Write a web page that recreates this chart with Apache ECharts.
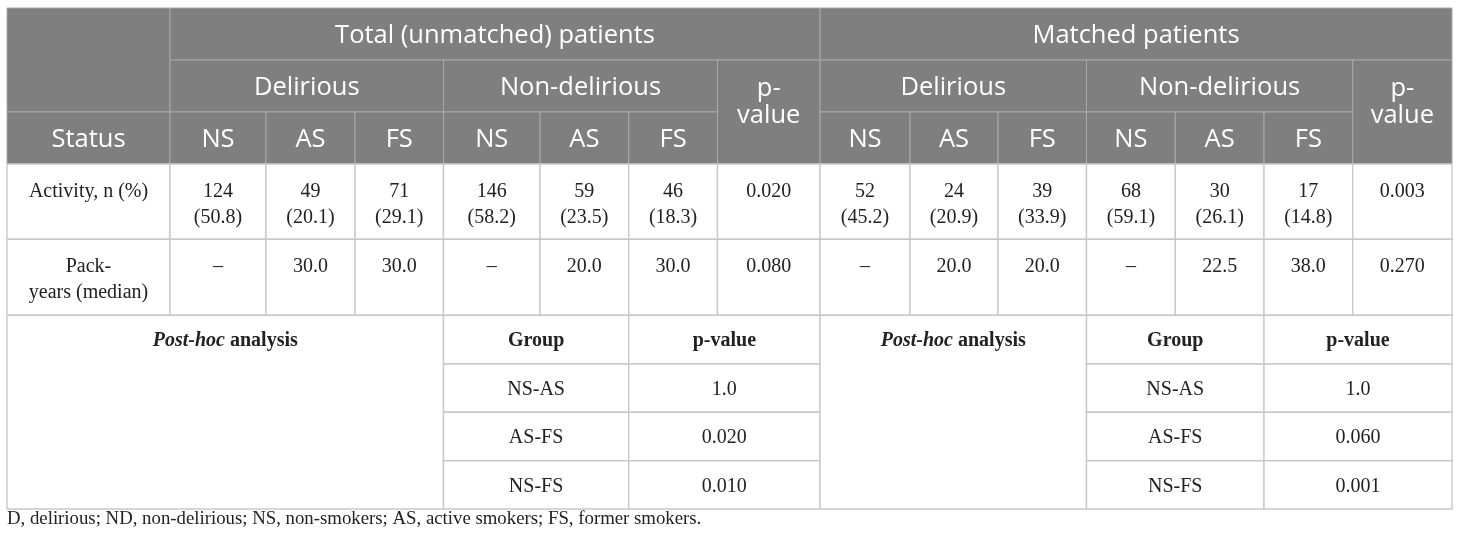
<!DOCTYPE html>
<html>
<head>
<meta charset="utf-8">
<script src="https://cdn.jsdelivr.net/npm/echarts@6/dist/echarts.min.js"></script>
<style>
html,body{margin:0;padding:0;background:#fff;}
#chart{width:1460px;height:544px;}
</style>
</head>
<body>
<div id="chart"></div>
<script>
// ---------- data ----------
const topHeaders = ['Total (unmatched) patients', 'Matched patients'];
const groupHeaders = ['Delirious', 'Non-delirious'];
const statusCols = ['NS', 'AS', 'FS'];
const pHeader = 'p-\nvalue';
const firstColHeader = 'Status';
const rowLabels = ['Activity, n (%)', 'Pack-\nyears (median)'];

const activityCountTotal = [124, 49, 71, 146, 59, 46];
const activityPctTotal = ['50.8', '20.1', '29.1', '58.2', '23.5', '18.3'];
const activityPTotal = '0.020';
const packYearsTotal = ['–', '30.0', '30.0', '–', '20.0', '30.0'];
const packPTotal = '0.080';

const activityCountMatched = [52, 24, 39, 68, 30, 17];
const activityPctMatched = ['45.2', '20.9', '33.9', '59.1', '26.1', '14.8'];
const activityPMatched = '0.003';
const packYearsMatched = ['–', '20.0', '20.0', '–', '22.5', '38.0'];
const packPMatched = '0.270';

const postHocTitle = ['Post-hoc', 'analysis'];
const postHocHeaders = ['Group', 'p-value'];
const postHocGroups = ['NS-AS', 'AS-FS', 'NS-FS'];
const postHocPTotal = ['1.0', '0.020', '0.010'];
const postHocPMatched = ['1.0', '0.060', '0.001'];

const footnote = 'D, delirious; ND, non-delirious; NS, non-smokers; AS, active smokers; FS, former smokers.';

// ---------- layout ----------
const colWidths = [163, 96, 89, 88.5, 96.5, 88.7, 88.8, 102.5, 90, 88, 88.5, 88.8, 88.7, 88.7, 99.3];
const rowHeights = [52, 52, 52, 75.3, 76, 48.7, 48.3, 48.4, 48.3];
const colEdges = [0]; colWidths.forEach(w => colEdges.push(colEdges[colEdges.length - 1] + w));
const rowEdges = [0]; rowHeights.forEach(h => rowEdges.push(rowEdges[rowEdges.length - 1] + h));
const totalW = colEdges[colEdges.length - 1];
const totalH = rowEdges[rowEdges.length - 1];

const HEAD_FONT = '"Open Sans"';
const BODY_FONT = '"Liberation Serif"';
const HEAD_SHIFT = 2;   // optical vertical offset for header text
const BODY_SHIFT = 1.5; // optical vertical offset for body text

// ---------- cells ----------
const cells = [];
function head(c0, c1, r0, r1, text, opts) {
  cells.push(Object.assign({c0, c1, r0, r1, text, kind: 'head', valign: 'middle'}, opts || {}));
}
function body(c0, c1, r0, r1, text, opts) {
  cells.push(Object.assign({c0, c1, r0, r1, text, kind: 'body', valign: 'top'}, opts || {}));
}

// header
head(0, 0, 0, 1, '');
head(0, 0, 2, 2, firstColHeader);
topHeaders.forEach((t, b) => {
  const base = 1 + b * 7;
  head(base, base + 6, 0, 0, t);
  groupHeaders.forEach((g, gi) => {
    head(base + gi * 3, base + gi * 3 + 2, 1, 1, g);
    statusCols.forEach((s, si) => head(base + gi * 3 + si, base + gi * 3 + si, 2, 2, s));
  });
  head(base + 6, base + 6, 1, 2, pHeader, {valign: 'top', pad: 13.5, lh: 27});
});

// body rows
body(0, 0, 3, 3, rowLabels[0]);
body(0, 0, 4, 4, rowLabels[1]);
const blocks = [
  [activityCountTotal, activityPctTotal, activityPTotal, packYearsTotal, packPTotal],
  [activityCountMatched, activityPctMatched, activityPMatched, packYearsMatched, packPMatched]
];
blocks.forEach((blk, b) => {
  const base = 1 + b * 7;
  blk[0].forEach((n, i) => body(base + i, base + i, 3, 3, n + '\n(' + blk[1][i] + ')'));
  body(base + 6, base + 6, 3, 3, blk[2]);
  blk[3].forEach((v, i) => body(base + i, base + i, 4, 4, v));
  body(base + 6, base + 6, 4, 4, blk[4]);
});

// post-hoc section
[postHocPTotal, postHocPMatched].forEach((pv, b) => {
  const c0 = b ? 8 : 0, c1 = b ? 10 : 3;
  body(c0, c1, 5, 8, '', {rich: true, valign: 'middleFirst'});
  const g0 = b ? 11 : 4, p0 = b ? 13 : 6;
  body(g0, g0 + 1, 5, 5, postHocHeaders[0], {bold: true, valign: 'middle'});
  body(p0, p0 + 1, 5, 5, postHocHeaders[1], {bold: true, valign: 'middle'});
  postHocGroups.forEach((g, i) => {
    body(g0, g0 + 1, 6 + i, 6 + i, g, {valign: 'middle'});
    body(p0, p0 + 1, 6 + i, 6 + i, pv[i], {valign: 'middle'});
  });
});

// ---------- chart ----------
const chart = echarts.init(document.getElementById('chart'), null, {renderer: 'canvas'});

function renderItem(params, api) {
  const cell = cells[params.dataIndex];
  const pA = api.coord([colEdges[cell.c0], rowEdges[cell.r0]]);
  const pB = api.coord([colEdges[cell.c1 + 1], rowEdges[cell.r1 + 1]]);
  const x = pA[0], y = pA[1], w = pB[0] - pA[0], h = pB[1] - pA[1];
  const isHead = cell.kind === 'head';
  const children = [{
    type: 'rect',
    shape: {x, y, width: w, height: h},
    style: {
      fill: isHead ? '#7f7f7f' : '#ffffff',
      stroke: isHead ? '#a9a9a9' : '#c9c9c9',
      lineWidth: isHead ? 1 : 1.4
    }
  }];
  const cx = x + w / 2;
  const shift = isHead ? HEAD_SHIFT : BODY_SHIFT;
  let ty, va;
  if (cell.valign === 'middle') { ty = y + h / 2; va = 'middle'; }
  else if (cell.valign === 'middleFirst') {
    const hp = api.coord([0, rowEdges[cell.r0 + 1]])[1] - y;
    ty = y + hp / 2; va = 'middle';
  } else { ty = y + (cell.pad || 13); va = 'top'; }
  ty += shift;
  if (cell.rich) {
    children.push({
      type: 'text',
      style: {
        text: '{bi|' + postHocTitle[0] + '} {b|' + postHocTitle[1] + '}',
        x: cx, y: ty, align: 'center', verticalAlign: va,
        fill: '#222',
        font: 'bold 20px ' + BODY_FONT,
        rich: {
          bi: {fontFamily: 'Liberation Serif', fontSize: 20, fontWeight: 'bold', fontStyle: 'italic', fill: '#222'},
          b: {fontFamily: 'Liberation Serif', fontSize: 20, fontWeight: 'bold', fill: '#222'}
        }
      }
    });
  } else if (cell.text !== '') {
    children.push({
      type: 'text',
      style: {
        text: String(cell.text),
        x: cx, y: ty, align: 'center', verticalAlign: va,
        fill: isHead ? '#ffffff' : '#222222',
        font: isHead ? ('25.5px ' + HEAD_FONT) : ((cell.bold ? 'bold ' : '') + '20px ' + BODY_FONT),
        lineHeight: isHead ? (cell.lh || 28) : 26
      }
    });
  }
  return {type: 'group', children};
}

chart.setOption({
  backgroundColor: '#ffffff',
  animation: false,
  title: {
    text: footnote,
    left: 7, top: 510, padding: 0,
    textStyle: {fontFamily: 'Liberation Serif', fontSize: 18.8, fontWeight: 'normal', color: '#222'}
  },
  grid: {left: 7, top: 8, width: totalW, height: totalH, containLabel: false},
  xAxis: {type: 'value', min: 0, max: totalW, show: false},
  yAxis: {type: 'value', min: 0, max: totalH, inverse: true, show: false},
  series: [{
    type: 'custom',
    renderItem,
    clip: false,
    silent: true,
    encode: {x: 0, y: 1},
    data: cells.map((c, i) => [colEdges[c.c0], rowEdges[c.r0], i])
  }]
});
</script>
</body>
</html>
